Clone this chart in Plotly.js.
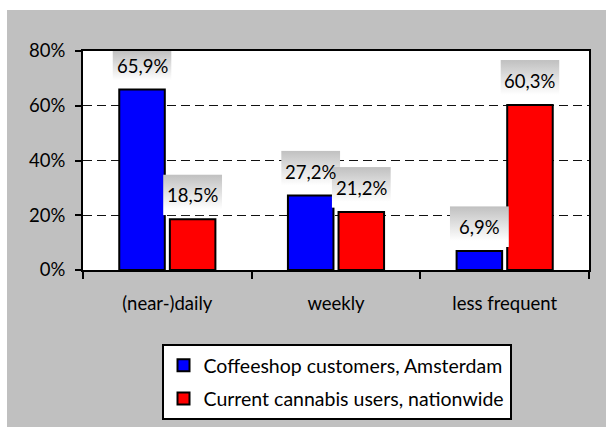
<!DOCTYPE html>
<html>
<head>
<meta charset="utf-8">
<script src="https://cdn.plot.ly/plotly-3.0.1.min.js"></script>
<style>html,body{margin:0;padding:0;background:#c0c0c0;}#chart{width:606px;height:427px;}</style>
</head>
<body>
<div id="chart"></div>
<script>
const categories = ['(near-)daily', 'weekly', 'less frequent'];
const seriesNames = ['Coffeeshop customers, Amsterdam', 'Current cannabis users, nationwide'];
const coffeeshop = [65.9, 27.2, 6.9];
const nationwide = [18.5, 21.2, 60.3];
const yTicks = [0, 20, 40, 60, 80];
const yTickLabels = ['0%', '20%', '40%', '60%', '80%'];

const FONT = 'Lato, "Open Sans", sans-serif';
const colors = ['#0000ff', '#ff0000'];
const series = [coffeeshop, nationwide];

const traces = series.map((vals, i) => ({
  type: 'bar',
  name: seriesNames[i],
  legendgroup: 'g' + i,
  x: categories,
  y: vals,
  marker: {color: colors[i], line: {color: '#000', width: 2}},
  hoverinfo: 'skip'
}));

const gradSvg = "<svg xmlns='http://www.w3.org/2000/svg' viewBox='0 0 10 10' preserveAspectRatio='none' width='10' height='10'>" +
  "<defs><linearGradient id='g' x1='0' y1='0' x2='0' y2='1'>" +
  "<stop offset='0' stop-color='#c0c0c0'/><stop offset='0.85' stop-color='#ffffff'/></linearGradient></defs>" +
  "<rect x='0' y='0' width='10' height='10' fill='url(#g)'/></svg>";
const gradSrc = 'data:image/svg+xml;charset=utf-8,' + encodeURIComponent(gradSvg);

const offsets = [-0.15, 0.15];
const images = [];
const annotations = [];
series.forEach((vals, s) => {
  vals.forEach((v, c) => {
    const top = Math.min(v + 16.4, 80);
    images.push({
      source: gradSrc, xref: 'x', yref: 'y',
      x: c + offsets[s], y: top, sizex: 0.35, sizey: top - (v + 1.5),
      xanchor: 'center', yanchor: 'top', sizing: 'stretch', layer: 'above'
    });
    annotations.push({
      xref: 'x', yref: 'y', x: c + offsets[s], y: v, yshift: 24,
      text: v.toFixed(1).replace('.', ',') + '%', showarrow: false,
      xanchor: 'center', yanchor: 'middle',
      font: {family: FONT, size: 18.5, color: '#000'}
    });
  });
});

const layout = {
  width: 606, height: 427,
  margin: {l: 83, r: 17, t: 51, b: 157},
  paper_bgcolor: '#c0c0c0',
  plot_bgcolor: '#ffffff',
  font: {family: FONT, size: 18.5, color: '#000'},
  barmode: 'group',
  bargap: 0.4,
  bargroupgap: 0.1,
  showlegend: true,
  legend: {
    xref: 'paper', yref: 'container',
    x: 0.501, xanchor: 'center', y: 0.0164, yanchor: 'bottom',
    bgcolor: '#ffffff', bordercolor: '#000', borderwidth: 2,
    font: {family: FONT, size: 19.5, color: '#000'},
    tracegroupgap: 5, traceorder: 'grouped', itemwidth: 30
  },
  xaxis: {
    type: 'category',
    tickson: 'boundaries', ticks: 'outside', ticklen: 7, tickwidth: 2, tickcolor: '#000',
    showline: true, linecolor: '#000', linewidth: 2, mirror: true,
    showgrid: false, ticklabelstandoff: 16,
    tickfont: {family: FONT, size: 18.5, color: '#000'}
  },
  yaxis: {
    range: [0, 80], tickvals: yTicks, ticktext: yTickLabels,
    ticks: 'outside', ticklen: 6, tickwidth: 2, tickcolor: '#000',
    showline: true, linecolor: '#000', linewidth: 2, mirror: true,
    showgrid: true, gridcolor: '#111', griddash: '9px,5px', gridwidth: 1,
    zeroline: false, ticklabelstandoff: 6,
    tickfont: {family: FONT, size: 18.5, color: '#000'}
  },
  shapes: [
    {type: 'rect', xref: 'paper', yref: 'paper', x0: -0.3, x1: 1.2, y0: 1.187, y1: 1.4,
     fillcolor: '#ffffff', line: {width: 0}, layer: 'below'},
    {type: 'rect', xref: 'paper', yref: 'paper', x0: -0.3, x1: -0.1502, y0: -1, y1: 1.4,
     fillcolor: '#ffffff', line: {width: 0}, layer: 'below'}
  ],
  images: images,
  annotations: annotations
};

Plotly.newPlot('chart', traces, layout, {displayModeBar: false, staticPlot: true});
</script>
</body>
</html>
